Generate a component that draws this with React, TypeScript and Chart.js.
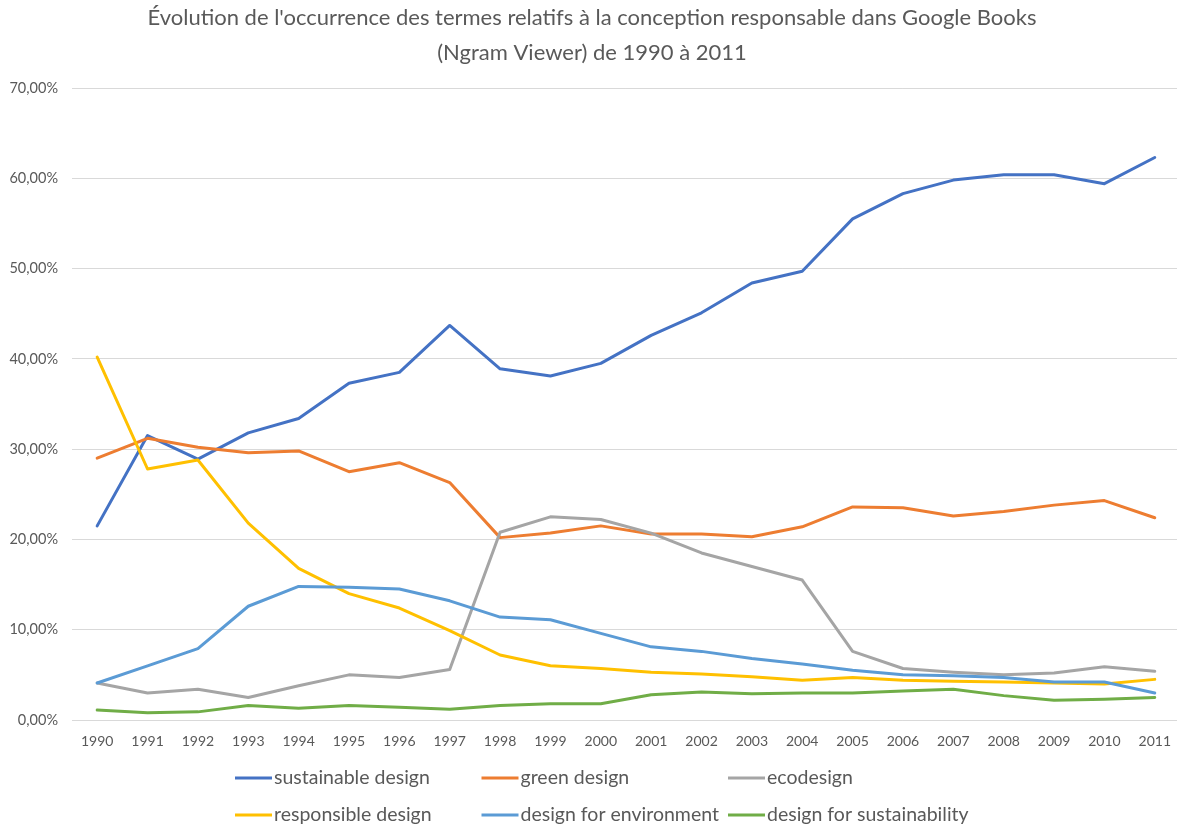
import React, { useEffect, useRef } from "react";
import { Chart, registerables } from "chart.js";

Chart.register(...registerables);

const years = ["1990","1991","1992","1993","1994","1995","1996","1997","1998","1999","2000","2001","2002","2003","2004","2005","2006","2007","2008","2009","2010","2011"];

const sustainableDesign = [21.5, 31.5, 28.9, 31.8, 33.4, 37.3, 38.5, 43.7, 38.9, 38.1, 39.5, 42.6, 45.1, 48.4, 49.7, 55.5, 58.3, 59.8, 60.4, 60.4, 59.4, 62.3];
const greenDesign = [29.0, 31.2, 30.2, 29.6, 29.8, 27.5, 28.5, 26.3, 20.2, 20.7, 21.5, 20.6, 20.6, 20.3, 21.4, 23.6, 23.5, 22.6, 23.1, 23.8, 24.3, 22.4];
const ecodesign = [4.1, 3.0, 3.4, 2.5, 3.8, 5.0, 4.7, 5.6, 20.8, 22.5, 22.2, 20.7, 18.5, 17.0, 15.5, 7.6, 5.7, 5.3, 5.0, 5.2, 5.9, 5.4];
const responsibleDesign = [40.2, 27.8, 28.8, 21.8, 16.8, 14.0, 12.4, 9.9, 7.2, 6.0, 5.7, 5.3, 5.1, 4.8, 4.4, 4.7, 4.4, 4.3, 4.2, 4.1, 4.0, 4.5];
const designForEnvironment = [4.1, 6.0, 7.9, 12.6, 14.8, 14.7, 14.5, 13.2, 11.4, 11.1, 9.6, 8.1, 7.6, 6.8, 6.2, 5.5, 5.0, 4.9, 4.7, 4.2, 4.2, 3.0];
const designForSustainability = [1.1, 0.8, 0.9, 1.6, 1.3, 1.6, 1.4, 1.2, 1.6, 1.8, 1.8, 2.8, 3.1, 2.9, 3.0, 3.0, 3.2, 3.4, 2.7, 2.2, 2.3, 2.5];

const seriesLabels = ["sustainable design", "green design", "ecodesign", "responsible design", "design for environment", "design for sustainability"];
const seriesColors = ["#4472C4", "#ED7D31", "#A5A5A5", "#FFC000", "#5B9BD5", "#70AD47"];
const seriesValues = [sustainableDesign, greenDesign, ecodesign, responsibleDesign, designForEnvironment, designForSustainability];

const titleLines = ["Évolution de l'occurrence des termes relatifs à la conception responsable dans Google Books", "(Ngram Viewer) de 1990 à 2011"];

const FONT = "Lato, 'Open Sans', sans-serif";
const TEXT_COLOR = "#595959";

const titlePlugin = {
  id: "excelTitle",
  afterDraw(chart: any) {
    const ctx = chart.ctx;
    ctx.save();
    ctx.fillStyle = TEXT_COLOR;
    ctx.font = `22px ${FONT}`;
    ctx.textAlign = "center";
    ctx.textBaseline = "middle";
    const ys = [18, 53];
    titleLines.forEach((t, i) => ctx.fillText(t, 592, ys[i]));
    ctx.restore();
  },
};

const legendPlugin = {
  id: "excelLegend",
  afterDraw(chart: any) {
    const ctx = chart.ctx;
    ctx.save();
    ctx.font = `19.5px ${FONT}`;
    ctx.textBaseline = "middle";
    ctx.textAlign = "left";
    const startX = 235;
    const colW = 246.5;
    const rowYs = [778, 815];
    const lineLen = 37;
    const textOff = 39;
    chart.data.datasets.forEach((ds: any, i: number) => {
      const col = i % 3;
      const row = Math.floor(i / 3);
      const x = startX + col * colW;
      const y = rowYs[row];
      ctx.strokeStyle = ds.borderColor;
      ctx.lineWidth = 3;
      ctx.lineCap = "butt";
      ctx.beginPath();
      ctx.moveTo(x, y);
      ctx.lineTo(x + lineLen, y);
      ctx.stroke();
      ctx.fillStyle = TEXT_COLOR;
      ctx.fillText(ds.label, x + textOff, y);
    });
    ctx.restore();
  },
};

export default function App() {
  const canvasRef = useRef<HTMLCanvasElement | null>(null);

  useEffect(() => {
    if (!canvasRef.current) return;
    const chart = new Chart(canvasRef.current, {
      type: "line",
      data: {
        labels: years,
        datasets: seriesLabels.map((label, i) => ({
          label,
          data: seriesValues[i],
          borderColor: seriesColors[i],
          backgroundColor: seriesColors[i],
          borderWidth: 3,
          pointRadius: 0,
          pointHoverRadius: 0,
          tension: 0,
          fill: false,
          borderJoinStyle: "round" as const,
          borderCapStyle: "round" as const,
          order: seriesLabels.length - i,
        })),
      },
      options: {
        responsive: false,
        animation: false,
        layout: { padding: { top: 88, left: 0, right: 0, bottom: 90 } },
        plugins: {
          legend: { display: false },
          title: { display: false },
          tooltip: { enabled: false },
        },
        scales: {
          x: {
            type: "category",
            offset: true,
            grid: { display: false, drawTicks: false },
            border: { display: false },
            ticks: {
              color: TEXT_COLOR,
              font: { family: FONT, size: 14 },
              padding: 13,
              autoSkip: false,
              maxRotation: 0,
              minRotation: 0,
            },
            afterFit(scale: any) {
              scale.height = 30;
            },
          },
          y: {
            min: 0,
            max: 70,
            grid: { color: "#D9D9D9", lineWidth: 1, drawTicks: false },
            border: { display: false },
            ticks: {
              stepSize: 10,
              color: TEXT_COLOR,
              font: { family: FONT, size: 14.5 },
              padding: 14,
              callback: (v: any) => Number(v).toFixed(2).replace(".", ",") + "%",
            },
            afterFit(scale: any) {
              scale.width = 72;
            },
          },
        },
      },
      plugins: [titlePlugin, legendPlugin],
    });
    return () => chart.destroy();
  }, []);

  return (
    <div style={{ position: "fixed", left: 0, top: 0, width: 1177, height: 825, overflow: "hidden", background: "#fff" }}>
      <canvas ref={canvasRef} width={1184} height={840} style={{ display: "block" }} />
    </div>
  );
}
